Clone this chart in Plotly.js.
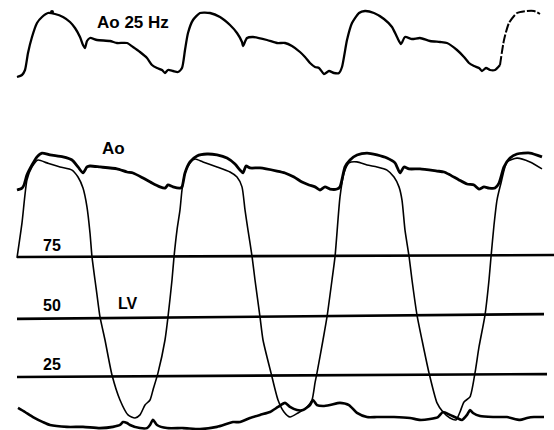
<!DOCTYPE html>
<html>
<head>
<meta charset="utf-8">
<script src="https://cdn.plot.ly/plotly-3.0.1.min.js"></script>
<style>html,body{margin:0;padding:0;background:#fff;}#chart{width:554px;height:430px;}</style>
</head>
<body>
<div id="chart"></div>
<script>
// ---- Top tracing: aortic pressure, 25 Hz filtered (arbitrary amplitude units) ----
const topTime = [17,22,25,28,32,37,42,48,55,63,70,75,80,83,85,87,90,97,110,117,127,133,140,147,152,157,162,165,168,173,178,182,185,188,193,200,210,220,230,237,242,243,247,253,267,277,285,292,300,305,310,315,319,324,329,334,339,342,347,352,359,365,374,384,392,397,401,405,412,420,430,440,447,457,464,469,474,479,482,486,490,495,500];
const topAmp  = [23,25,30,47,63,77,83,87,86,83,78,72,63,55,52,59,62,60,59,57,57,53,48,42,35,32,30,27,30,29,28,32,50,67,80,87,87,83,75,67,58,54,62,63,60,57,57,54,48,43,37,33,32,26,29,27,27,33,60,77,87,89,87,81,73,63,56,63,61,62,59,58,57,50,43,37,34,32,29,32,30,30,35];
const topTailTime = [500,504,509,517,527,534,540];
const topTailAmp  = [35,60,77,87,89,89,86];
const topDotTime = [52];
const topDotAmp  = [88];

// ---- Lower tracings (mmHg) ----
const aoTime = [17,22,24,27,32,37,42,50,63,72,78,83,87,90,100,117,127,133,143,152,160,165,168,173,180,182,185,190,197,207,217,227,235,240,243,246,250,260,277,285,294,302,309,315,320,325,330,337,340,345,350,357,367,377,387,395,400,404,409,420,437,444,450,459,467,474,479,484,489,495,499,504,510,517,530,542];
const aoP    = [102.5,103.3,104.6,108.8,112.9,116.3,117.9,117.1,116.3,115,112.1,109.6,112.1,112.5,112.1,111.3,110,109.6,107.5,105.4,103.8,103.3,104.6,103.8,103.3,103.8,109.6,114.2,116.7,117.5,117.1,115.8,113.3,110.8,109.6,112.5,111.7,111.7,110.4,109.6,107.9,105.8,104.6,103.8,102.5,103.8,102.9,102.9,103.8,112.1,115,117.1,117.9,117.1,115.8,113.8,109.6,112.1,111.3,111.3,110.4,110,108.8,106.7,105,104.6,102.9,103.8,103.3,103.3,105.4,112.1,115.8,117.5,117.9,116.3];

const lvTime = [17,22,27,32,38,47,60,72,78,83,87,90,92,95,97,100,105,112,120,128,135,140,145,150,153,158,165,168,172,174,177,180,182,185,190,195,203,217,230,237,242,245,248,252,255,260,263,271,278,284,290,298,307,312,315,317,323,327,332,335,340,344,349,357,367,377,387,394,399,402,405,409,412,417,422,429,437,443,450,456,460,464,470,475,479,485,489,491,494,497,501,507,517,530,542];
const lvP    = [74.2,88.8,106.7,112.1,115,113.8,112.1,110.8,107.9,103.3,95.4,84.6,74.6,65,58.8,49.6,40,25.4,15,8.8,7.5,8.8,12.9,15,19.2,26.3,40,49.6,65,74.6,85.8,94.2,102.5,109.6,113.8,115.4,114.2,112.1,110,107.9,103.8,94.2,85.8,75,65,49.6,40,26.3,15,10,7.9,9.6,12.1,15,22.1,26.3,40,49.6,65,74.6,99.6,109.6,113.8,114.2,112.9,112.1,110.8,107.9,103.8,98.3,85.8,75,65,50.4,40,26.3,13.8,10,7.5,6.7,10,14.2,16.3,26.3,37.1,50.4,65,74.6,87.9,98.3,105.4,114.2,115.8,114.2,111.3];

const baseTime = [18,25,33,43,50,67,83,100,113,120,123,127,130,140,147,150,153,157,167,183,200,217,233,240,250,260,270,278,285,290,297,303,310,313,317,323,330,340,349,357,367,377,394,410,420,430,438,443,450,457,462,467,470,473,480,493,507,520,527,534,544];
const baseP    = [11.7,10,7.9,5.8,4.6,3.8,3.8,3.3,3.8,4.6,5.8,5.4,4.6,3.3,3.3,4.6,6.7,4.6,3.3,3.3,2.9,3.8,5.8,5.8,7.5,8.8,10,12.1,13.8,12.1,10.8,10.8,12.9,15,12.9,12.5,12.9,13.8,12.9,9.6,7.9,7.9,7.9,7.5,6.7,7.1,7.9,10,8.8,7.5,6.7,8.8,10.8,9.6,8.3,7.9,7.9,6.7,7.5,7.9,7.9];

// calibration lines (mmHg)
const gridLabels = ['75','50','25'];
const gridLeftP  = [74.6,48.8,24.6];
const gridRightP = [75.4,50.8,25.8];
const gridStartT = [17,17,17];
const gridEndT   = [554,544,547];

const ink = '#000000';
const traces = [];
for (let i = 0; i < gridLabels.length; i++) {
  traces.push({x:[gridStartT[i], gridEndT[i]], y:[gridLeftP[i], gridRightP[i]], mode:'lines', line:{color:ink, width:2.6}, hoverinfo:'skip'});
}
traces.push({x:baseTime, y:baseP, mode:'lines', line:{color:ink, width:2.6, shape:'spline', smoothing:0.6}});
traces.push({x:aoTime, y:aoP, mode:'lines', line:{color:ink, width:2.8, shape:'spline', smoothing:0.6}});
traces.push({x:lvTime, y:lvP, mode:'lines', line:{color:ink, width:1.6, shape:'spline', smoothing:0.6}});
traces.push({x:topTime, y:topAmp, xaxis:'x', yaxis:'y2', mode:'lines', line:{color:ink, width:2.3, shape:'spline', smoothing:0.6}});
traces.push({x:topTailTime, y:topTailAmp, xaxis:'x', yaxis:'y2', mode:'lines', line:{color:ink, width:2, shape:'spline', smoothing:0.6, dash:'9px,2px'}});
traces.push({x:topDotTime, y:topDotAmp, xaxis:'x', yaxis:'y2', mode:'markers', marker:{color:ink, size:4}});

const labelFont = {family:'Liberation Sans, Arial, sans-serif', size:16, color:ink, weight:'bold'};
const annotations = [];
const gridLabelP = [79.2, 54.2, 30];
for (let i = 0; i < gridLabels.length; i++) {
  annotations.push({x:52, y:gridLabelP[i], xref:'x', yref:'y', text:gridLabels[i], showarrow:false, font:labelFont});
}
annotations.push({x:113, y:120, xref:'x', yref:'y', text:'Ao', showarrow:false, font:{...labelFont, size:17}});
annotations.push({x:128, y:55.4, xref:'x', yref:'y', text:'LV', showarrow:false, font:labelFont});
annotations.push({x:133, y:78, xref:'x', yref:'y2', text:'Ao 25 Hz', showarrow:false, font:{...labelFont, size:17}});

const layout = {
  width:554, height:430,
  margin:{l:0, r:0, t:0, b:0},
  paper_bgcolor:'#ffffff', plot_bgcolor:'#ffffff',
  showlegend:false,
  xaxis:{range:[0,554], visible:false, fixedrange:true},
  yaxis:{range:[2.5,181.67], domain:[0,1], visible:false, fixedrange:true},
  yaxis2:{range:[-7.5,100], domain:[0.75,1], anchor:'x', visible:false, fixedrange:true},
  annotations:annotations
};
Plotly.newPlot('chart', traces, layout, {staticPlot:true, displayModeBar:false});
</script>
</body>
</html>
